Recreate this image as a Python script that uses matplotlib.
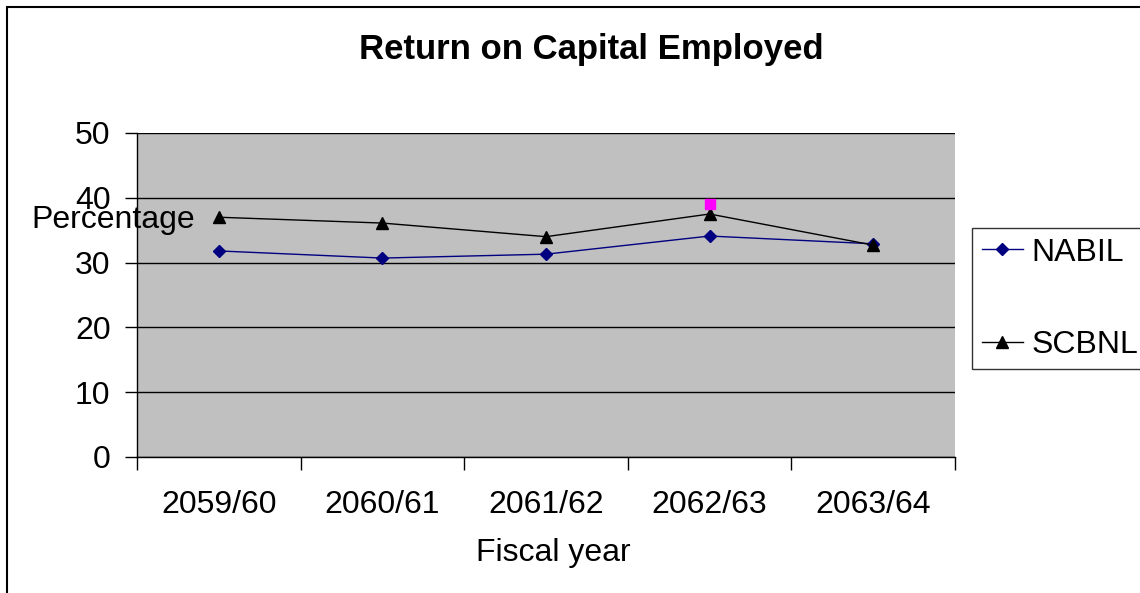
import matplotlib.pyplot as plt
from matplotlib.patches import Rectangle

plt.rcParams["font.family"] = ["Liberation Sans", "DejaVu Sans"]

years = ["2059/60", "2060/61", "2061/62", "2062/63", "2063/64"]
nabil = [31.8, 30.7, 31.3, 34.1, 32.9]
scbnl = [37.0, 36.1, 34.0, 37.5, 32.7]
# stray point drawn in the original chart (no legend entry)
extra_x = [3]
extra_y = [39.1]

W, H = 1140, 593
fs = 23
fig = plt.figure(figsize=(W / 100, H / 100), dpi=100)
ax = fig.add_axes([137 / W, 1 - 457 / H, (955 - 137) / W, (457 - 133) / H])
ax.set_facecolor("#c0c0c0")

xs = list(range(len(years)))
ax.plot(xs, nabil, color="#000080", lw=1, marker="D", ms=6, label="NABIL", zorder=3)
ax.plot(xs, scbnl, color="black", lw=1, marker="^", ms=8, label="SCBNL", zorder=3)
ax.plot(extra_x, extra_y, ls="none", marker="s", ms=7, color="#ff00ff", zorder=3)

ax.set_xlim(-0.5, len(years) - 0.5)
ax.set_ylim(0, 50)
ax.set_yticks(range(0, 51, 10))
ax.tick_params(axis="y", labelsize=fs, length=9, width=1, direction="out", pad=10)
ax.set_xticks(xs)
ax.set_xticklabels(years)
ax.set_xticks([i - 0.5 for i in range(len(years) + 1)], minor=True)
ax.tick_params(axis="x", which="major", length=0, labelsize=fs, pad=24)
ax.tick_params(axis="x", which="minor", length=9, width=1, direction="out")
ax.grid(axis="y", color="black", lw=1)
ax.set_axisbelow(True)
for s in ["top", "right"]:
    ax.spines[s].set_visible(False)
for s in ["left", "bottom"]:
    ax.spines[s].set_color("black")
    ax.spines[s].set_linewidth(1)

fig.text(591 / W, 1 - 50 / H, "Return on Capital Employed", ha="center", va="center",
         fontsize=25, fontweight="bold")
fig.text(113 / W, 1 - 220 / H, "Percentage", ha="center", va="center", fontsize=fs)
fig.text(553 / W, 1 - 553 / H, "Fiscal year", ha="center", va="center", fontsize=fs)

leg = fig.legend(loc="upper left", bbox_to_anchor=(972 / W, 1 - 228 / H), fontsize=fs,
                 frameon=True, fancybox=False, edgecolor="black", labelspacing=1.95,
                 handlelength=1.3, handletextpad=0.25, borderpad=0.3, borderaxespad=0)
leg.get_frame().set_linewidth(1)

fig.patches.append(Rectangle((7 / W, -0.5), 2, 1 - 7 / H + 0.5, transform=fig.transFigure,
                             fill=False, edgecolor="black", lw=1.5))

fig.savefig("out.png", dpi=100)
